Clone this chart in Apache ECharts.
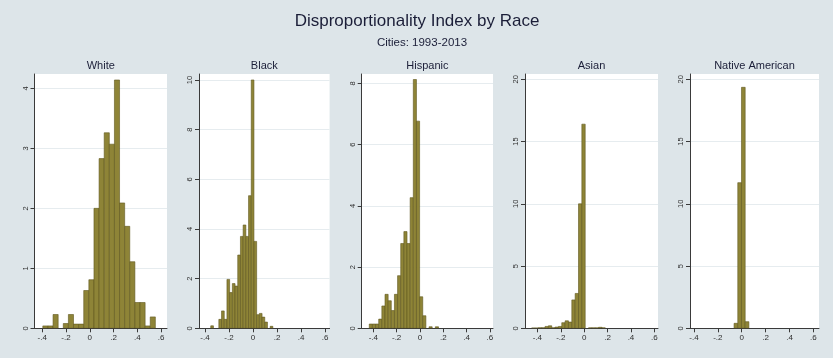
<!DOCTYPE html>
<html>
<head>
<meta charset="utf-8">
<script src="https://cdn.jsdelivr.net/npm/echarts@6/dist/echarts.min.js"></script>
<style>
  html, body { margin: 0; padding: 0; background: #dde5e9; }
  #chart { width: 833px; height: 358px; }
</style>
</head>
<body>
<div id="chart"></div>
<script>
// Histogram data: density per bin, bins start at binStart and are binWidth wide.
const panelNames = ['White', 'Black', 'Hispanic', 'Asian', 'Native American'];

const whiteBinStart = -0.395, whiteBinWidth = 0.043;
const whiteDensity = [0.04, 0.04, 0.23, 0, 0.08, 0.23, 0.07, 0.07, 0.63, 0.81, 2.0,
  2.83, 3.26, 3.07, 4.14, 2.09, 1.7, 1.11, 0.43, 0.43, 0.04, 0.19];

const blackBinStart = -0.3522, blackBinWidth = 0.0225;
const blackDensity = [0.1, 0, 0, 0.36, 0.7, 0.36, 1.97, 1.44, 1.8, 1.7, 2.95, 3.7,
  4.16, 3.7, 5.34, 10.0, 3.5, 0.55, 0.6, 0.45, 0.25, 0, 0.08];

const hispanicBinStart = -0.435, hispanicBinWidth = 0.027;
const hispanicDensity = [0.14, 0.14, 0.14, 0.3, 0.73, 1.11, 0.9, 0.58, 1.11, 1.72,
  2.77, 3.16, 2.77, 4.27, 8.13, 6.77, 1.03, 0.41, 0, 0.05, 0, 0.05];

const asianBinStart = -0.449, asianBinWidth = 0.0286;
const asianDensity = [0.03, 0.03, 0.05, 0.05, 0.15, 0.2, 0.05, 0.1, 0.15, 0.45, 0.6,
  0.5, 2.28, 2.8, 10.0, 16.4, 0, 0.04, 0.04, 0.04, 0.08, 0.04];

const nativeBinStart = -0.064, nativeBinWidth = 0.031;
const nativeDensity = [0.4, 11.7, 19.36, 0.53];

const xTickValues = [-0.4, -0.2, 0, 0.2, 0.4, 0.6];
const xTickLabels = ['-.4', '-.2', '0', '.2', '.4', '.6'];

const yTickValues = [
  [0, 1, 2, 3, 4],
  [0, 2, 4, 6, 8, 10],
  [0, 2, 4, 6, 8],
  [0, 5, 10, 15, 20],
  [0, 5, 10, 15, 20]
];

const bins = [
  { start: whiteBinStart, width: whiteBinWidth, density: whiteDensity },
  { start: blackBinStart, width: blackBinWidth, density: blackDensity },
  { start: hispanicBinStart, width: hispanicBinWidth, density: hispanicDensity },
  { start: asianBinStart, width: asianBinWidth, density: asianDensity },
  { start: nativeBinStart, width: nativeBinWidth, density: nativeDensity }
];

// Plot-region layout (pixels) and axis extents for each panel.
const layout = [
  { left: 34.5, right: 167, xMin: -0.465, xMax: 0.649, yMax: 4.24, yStep: 1 },
  { left: 199, right: 329.6, xMin: -0.45, xMax: 0.638, yMax: 10.24, yStep: 2 },
  { left: 361.7, right: 493, xMin: -0.50, xMax: 0.627, yMax: 8.31, yStep: 2 },
  { left: 525, right: 658, xMin: -0.506, xMax: 0.631, yMax: 20.43, yStep: 5 },
  { left: 690, right: 819, xMin: -0.433, xMax: 0.647, yMax: 20.43, yStep: 5 }
];
const plotTop = 74, plotHeight = 254.3;

const FONT = '"Liberation Sans", Arial, sans-serif';
const TEXT_COLOR = '#1b1e38';
const BAR_FILL = '#8e8437';
const BAR_EDGE = '#5f581f';
const AXIS_COLOR = '#3a3a3a';

const grids = [], xAxes = [], yAxes = [], series = [], titles = [];

titles.push({
  text: 'Disproportionality Index by Race',
  left: 417, top: 13, textAlign: 'center', padding: 0,
  textStyle: { fontFamily: FONT, fontSize: 17, fontWeight: 'normal', color: TEXT_COLOR }
});
titles.push({
  text: 'Cities: 1993-2013',
  left: 422, top: 37, textAlign: 'center', padding: 0,
  textStyle: { fontFamily: FONT, fontSize: 11.5, fontWeight: 'normal', color: TEXT_COLOR }
});

layout.forEach((g, i) => {
  const width = g.right - g.left;
  grids.push({ left: g.left, top: plotTop, width: width, height: plotHeight,
    show: true, backgroundColor: '#ffffff', borderWidth: 0 });

  titles.push({
    text: panelNames[i],
    left: g.left + width / 2, top: 60, textAlign: 'center', padding: 0,
    textStyle: { fontFamily: FONT, fontSize: 11, fontWeight: 'normal', color: TEXT_COLOR }
  });

  xAxes.push({
    type: 'value', gridIndex: i, min: g.xMin, max: g.xMax,
    axisLine: { show: true, onZero: false, lineStyle: { color: AXIS_COLOR, width: 1 } },
    axisTick: { show: true, length: 4, customValues: xTickValues,
      lineStyle: { color: AXIS_COLOR, width: 1 } },
    axisLabel: {
      customValues: xTickValues, margin: 5,
      fontFamily: FONT, fontSize: 8, color: '#2e2e2e',
      formatter: v => {
        const k = xTickValues.findIndex(t => Math.abs(t - v) < 1e-9);
        return k >= 0 ? xTickLabels[k] : '';
      }
    },
    splitLine: { show: false }
  });

  yAxes.push({
    type: 'value', gridIndex: i, min: 0, max: g.yMax, interval: g.yStep,
    axisLine: { show: true, onZero: false, lineStyle: { color: AXIS_COLOR, width: 1 } },
    axisTick: { show: true, length: 4, customValues: yTickValues[i],
      lineStyle: { color: AXIS_COLOR, width: 1 } },
    axisLabel: {
      customValues: yTickValues[i], rotate: 90, margin: 5,
      fontFamily: FONT, fontSize: 7.5, color: '#2e2e2e'
    },
    splitLine: { show: true, lineStyle: { color: '#e6ecef', width: 1 } }
  });

  const b = bins[i];
  const rows = b.density.map((d, k) => [b.start + k * b.width, b.start + (k + 1) * b.width, d]);

  series.push({
    type: 'custom', xAxisIndex: i, yAxisIndex: i,
    data: rows,
    encode: { x: [0, 1], y: 2 },
    clip: true,
    renderItem: (params, api) => {
      const x0 = api.value(0), x1 = api.value(1), h = api.value(2);
      if (!(h > 0)) return null;
      const pTop = api.coord([x0, h]);
      const pBot = api.coord([x1, 0]);
      return {
        type: 'rect',
        shape: { x: pTop[0], y: pTop[1], width: pBot[0] - pTop[0], height: pBot[1] - pTop[1] },
        style: { fill: BAR_FILL, stroke: BAR_EDGE, lineWidth: 0.6 }
      };
    }
  });
});

const chart = echarts.init(document.getElementById('chart'), null, { renderer: 'canvas' });
chart.setOption({
  backgroundColor: '#dde5e9',
  animation: false,
  title: titles,
  grid: grids,
  xAxis: xAxes,
  yAxis: yAxes,
  series: series
});
</script>
</body>
</html>
